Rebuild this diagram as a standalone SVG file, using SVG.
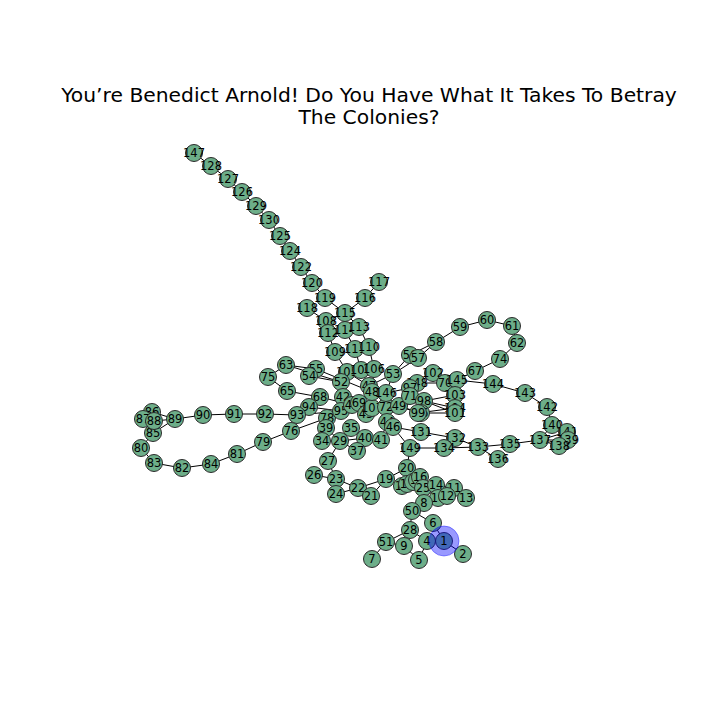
<svg xmlns="http://www.w3.org/2000/svg" width="720" height="720" viewBox="0 0 720 720">
<style>
.e line{stroke:#000;stroke-width:1}
.n circle{fill:#6dae89;stroke:#2a2a2a;stroke-width:1}
.n text{font-family:"DejaVu Sans",sans-serif;font-size:11.5px;text-anchor:middle;dominant-baseline:central;fill:#000}
.t{font-family:"DejaVu Sans",sans-serif;font-size:20.3px;text-anchor:middle;fill:#000}
</style>
<rect width="720" height="720" fill="#fff"/>
<text class="t" x="369" y="102">You’re Benedict Arnold! Do You Have What It Takes To Betray</text>
<text class="t" x="369" y="124">The Colonies?</text>
<g class="e" id="connectors">
<line x1="194" y1="153" x2="211" y2="166"/><line x1="211" y1="166" x2="228" y2="179"/><line x1="228" y1="179" x2="242" y2="192"/><line x1="242" y1="192" x2="256" y2="206"/><line x1="256" y1="206" x2="269" y2="220"/><line x1="269" y1="220" x2="280" y2="236"/><line x1="280" y1="236" x2="290" y2="251"/><line x1="290" y1="251" x2="301" y2="267"/><line x1="301" y1="267" x2="312" y2="283"/><line x1="312" y1="283" x2="325" y2="298"/><line x1="325" y1="298" x2="345" y2="313"/>
<line x1="307" y1="308" x2="326" y2="321"/><line x1="326" y1="321" x2="345" y2="313"/><line x1="326" y1="321" x2="328" y2="333"/><line x1="328" y1="333" x2="345" y2="330"/><line x1="345" y1="330" x2="345" y2="313"/><line x1="345" y1="313" x2="359" y2="327"/><line x1="365" y1="298" x2="345" y2="313"/><line x1="379" y1="282" x2="365" y2="298"/><line x1="359" y1="327" x2="369" y2="347"/><line x1="328" y1="333" x2="335" y2="352"/><line x1="345" y1="330" x2="355" y2="349"/><line x1="335" y1="352" x2="347" y2="372"/><line x1="355" y1="349" x2="361" y2="370"/><line x1="369" y1="347" x2="374" y2="369"/><line x1="347" y1="372" x2="341" y2="382"/><line x1="361" y1="370" x2="369" y2="386"/><line x1="374" y1="369" x2="372" y2="392"/><line x1="347" y1="372" x2="369" y2="386"/>
<line x1="286" y1="365" x2="316" y2="369"/><line x1="286" y1="365" x2="341" y2="382"/><line x1="316" y1="369" x2="309" y2="376"/><line x1="309" y1="376" x2="341" y2="382"/><line x1="316" y1="369" x2="372" y2="392"/><line x1="268" y1="377" x2="286" y2="365"/><line x1="268" y1="377" x2="287" y2="391"/><line x1="287" y1="391" x2="320" y2="397"/><line x1="320" y1="397" x2="352" y2="405"/><line x1="341" y1="382" x2="343" y2="397"/><line x1="343" y1="397" x2="341" y2="411"/><line x1="309" y1="407" x2="341" y2="411"/>
<line x1="297" y1="415" x2="265" y2="414"/><line x1="265" y1="414" x2="234" y2="414"/><line x1="234" y1="414" x2="203" y2="415"/><line x1="203" y1="415" x2="175" y2="419"/><line x1="175" y1="419" x2="152" y2="412"/><line x1="175" y1="419" x2="154" y2="421"/><line x1="175" y1="419" x2="153" y2="433"/><line x1="152" y1="412" x2="143" y2="419"/><line x1="143" y1="419" x2="154" y2="421"/><line x1="154" y1="421" x2="153" y2="433"/><line x1="153" y1="433" x2="141" y2="448"/><line x1="141" y1="448" x2="154" y2="463"/><line x1="154" y1="463" x2="182" y2="468"/><line x1="182" y1="468" x2="211" y2="464"/><line x1="211" y1="464" x2="237" y2="454"/><line x1="237" y1="454" x2="263" y2="442"/><line x1="263" y1="442" x2="291" y2="431"/><line x1="291" y1="431" x2="327" y2="418"/><line x1="327" y1="418" x2="341" y2="411"/><line x1="327" y1="418" x2="326" y2="428"/><line x1="297" y1="415" x2="309" y2="407"/><line x1="297" y1="415" x2="341" y2="411"/>
<line x1="326" y1="428" x2="322" y2="441"/><line x1="326" y1="428" x2="340" y2="441"/><line x1="340" y1="441" x2="365" y2="438"/><line x1="340" y1="441" x2="357" y2="451"/><line x1="340" y1="441" x2="328" y2="461"/><line x1="351" y1="428" x2="365" y2="438"/><line x1="365" y1="438" x2="381" y2="440"/><line x1="381" y1="440" x2="387" y2="422"/><line x1="387" y1="422" x2="393" y2="427"/><line x1="393" y1="427" x2="421" y2="432"/><line x1="421" y1="432" x2="455" y2="438"/><line x1="455" y1="438" x2="478" y2="447"/><line x1="410" y1="448" x2="444" y2="448"/><line x1="444" y1="448" x2="478" y2="447"/><line x1="393" y1="427" x2="410" y2="448"/><line x1="478" y1="447" x2="498" y2="459"/><line x1="478" y1="447" x2="510" y2="444"/><line x1="510" y1="444" x2="540" y2="440"/><line x1="540" y1="440" x2="559" y2="446"/><line x1="540" y1="440" x2="568" y2="440"/><line x1="540" y1="440" x2="567" y2="432"/><line x1="540" y1="440" x2="552" y2="425"/><line x1="552" y1="425" x2="547" y2="407"/><line x1="547" y1="407" x2="525" y2="393"/><line x1="525" y1="393" x2="493" y2="384"/><line x1="493" y1="384" x2="457" y2="380"/><line x1="457" y1="380" x2="475" y2="371"/><line x1="475" y1="371" x2="500" y2="359"/><line x1="500" y1="359" x2="517" y2="343"/><line x1="517" y1="343" x2="512" y2="326"/><line x1="512" y1="326" x2="487" y2="320"/><line x1="487" y1="320" x2="460" y2="327"/><line x1="460" y1="327" x2="436" y2="342"/><line x1="436" y1="342" x2="410" y2="355"/><line x1="436" y1="342" x2="418" y2="358"/><line x1="410" y1="355" x2="393" y2="374"/><line x1="418" y1="358" x2="393" y2="374"/><line x1="393" y1="374" x2="386" y2="393"/><line x1="393" y1="374" x2="369" y2="386"/><line x1="386" y1="393" x2="372" y2="392"/><line x1="369" y1="386" x2="372" y2="392"/><line x1="372" y1="392" x2="359" y2="403"/><line x1="372" y1="392" x2="352" y2="405"/>
<line x1="386" y1="393" x2="410" y2="388"/><line x1="417" y1="383" x2="433" y2="373"/><line x1="433" y1="373" x2="445" y2="383"/><line x1="417" y1="383" x2="445" y2="383"/><line x1="445" y1="383" x2="457" y2="380"/><line x1="417" y1="383" x2="410" y2="388"/><line x1="410" y1="388" x2="410" y2="396"/><line x1="410" y1="396" x2="424" y2="401"/><line x1="424" y1="401" x2="455" y2="395"/><line x1="424" y1="401" x2="455" y2="408"/><line x1="424" y1="401" x2="455" y2="413"/><line x1="421" y1="413" x2="455" y2="413"/><line x1="418" y1="413" x2="455" y2="408"/><line x1="399" y1="406" x2="424" y2="401"/><line x1="399" y1="406" x2="421" y2="413"/><line x1="399" y1="406" x2="418" y2="413"/><line x1="386" y1="407" x2="399" y2="406"/><line x1="372" y1="408" x2="386" y2="407"/><line x1="359" y1="403" x2="366" y2="414"/><line x1="352" y1="405" x2="359" y2="403"/><line x1="341" y1="411" x2="352" y2="405"/><line x1="372" y1="408" x2="359" y2="403"/>
<line x1="407" y1="468" x2="410" y2="448"/><line x1="407" y1="468" x2="386" y2="479"/><line x1="407" y1="468" x2="407" y2="484"/><line x1="386" y1="479" x2="402" y2="486"/><line x1="386" y1="479" x2="358" y2="488"/><line x1="386" y1="479" x2="371" y2="496"/><line x1="358" y1="488" x2="336" y2="479"/><line x1="358" y1="488" x2="336" y2="494"/><line x1="336" y1="479" x2="336" y2="494"/><line x1="336" y1="479" x2="314" y2="475"/><line x1="336" y1="479" x2="328" y2="461"/><line x1="420" y1="477" x2="407" y2="468"/><line x1="420" y1="477" x2="423" y2="488"/><line x1="417" y1="480" x2="423" y2="488"/><line x1="413" y1="482" x2="423" y2="488"/><line x1="402" y1="486" x2="407" y2="484"/><line x1="423" y1="488" x2="436" y2="485"/><line x1="423" y1="488" x2="438" y2="498"/><line x1="436" y1="485" x2="447" y2="496"/><line x1="438" y1="498" x2="447" y2="496"/><line x1="447" y1="496" x2="454" y2="488"/><line x1="436" y1="485" x2="454" y2="488"/><line x1="454" y1="488" x2="466" y2="498"/><line x1="423" y1="488" x2="424" y2="503"/><line x1="424" y1="503" x2="412" y2="511"/><line x1="412" y1="511" x2="433" y2="523"/><line x1="412" y1="511" x2="410" y2="530"/><line x1="410" y1="530" x2="427" y2="541"/><line x1="410" y1="530" x2="386" y2="542"/><line x1="410" y1="530" x2="404" y2="546"/><line x1="427" y1="541" x2="444" y2="541"/><line x1="433" y1="523" x2="444" y2="541"/><line x1="444" y1="541" x2="463" y2="554"/><line x1="427" y1="541" x2="419" y2="560"/><line x1="404" y1="546" x2="419" y2="560"/><line x1="386" y1="542" x2="372" y2="559"/><line x1="386" y1="542" x2="404" y2="546"/>
</g>
<g class="n">
<g id="n147"><circle cx="194" cy="153" r="8.5"/><text x="194" y="153">147</text></g>
<g id="n128"><circle cx="211" cy="166" r="8.5"/><text x="211" y="166">128</text></g>
<g id="n127"><circle cx="228" cy="179" r="8.5"/><text x="228" y="179">127</text></g>
<g id="n126"><circle cx="242" cy="192" r="8.5"/><text x="242" y="192">126</text></g>
<g id="n129"><circle cx="256" cy="206" r="8.5"/><text x="256" y="206">129</text></g>
<g id="n130"><circle cx="269" cy="220" r="8.5"/><text x="269" y="220">130</text></g>
<g id="n125"><circle cx="280" cy="236" r="8.5"/><text x="280" y="236">125</text></g>
<g id="n124"><circle cx="290" cy="251" r="8.5"/><text x="290" y="251">124</text></g>
<g id="n122"><circle cx="301" cy="267" r="8.5"/><text x="301" y="267">122</text></g>
<g id="n120"><circle cx="312" cy="283" r="8.5"/><text x="312" y="283">120</text></g>
<g id="n119"><circle cx="325" cy="298" r="8.5"/><text x="325" y="298">119</text></g>
<g id="n118"><circle cx="307" cy="308" r="8.5"/><text x="307" y="308">118</text></g>
<g id="n117"><circle cx="379" cy="282" r="8.5"/><text x="379" y="282">117</text></g>
<g id="n116"><circle cx="365" cy="298" r="8.5"/><text x="365" y="298">116</text></g>
<g id="n115"><circle cx="345" cy="313" r="8.5"/><text x="345" y="313">115</text></g>
<g id="n108"><circle cx="326" cy="321" r="8.5"/><text x="326" y="321">108</text></g>
<g id="n112"><circle cx="328" cy="333" r="8.5"/><text x="328" y="333">112</text></g>
<g id="n114"><circle cx="345" cy="330" r="8.5"/><text x="345" y="330">114</text></g>
<g id="n113"><circle cx="359" cy="327" r="8.5"/><text x="359" y="327">113</text></g>
<g id="n109"><circle cx="335" cy="352" r="8.5"/><text x="335" y="352">109</text></g>
<g id="n111"><circle cx="355" cy="349" r="8.5"/><text x="355" y="349">111</text></g>
<g id="n110"><circle cx="369" cy="347" r="8.5"/><text x="369" y="347">110</text></g>
<g id="n105"><circle cx="347" cy="372" r="8.5"/><text x="347" y="372">105</text></g>
<g id="n100"><circle cx="361" cy="370" r="8.5"/><text x="361" y="370">100</text></g>
<g id="n106"><circle cx="374" cy="369" r="8.5"/><text x="374" y="369">106</text></g>
<g id="n63"><circle cx="286" cy="365" r="8.5"/><text x="286" y="365">63</text></g>
<g id="n75"><circle cx="268" cy="377" r="8.5"/><text x="268" y="377">75</text></g>
<g id="n65"><circle cx="287" cy="391" r="8.5"/><text x="287" y="391">65</text></g>
<g id="n55"><circle cx="316" cy="369" r="8.5"/><text x="316" y="369">55</text></g>
<g id="n54"><circle cx="309" cy="376" r="8.5"/><text x="309" y="376">54</text></g>
<g id="n52"><circle cx="341" cy="382" r="8.5"/><text x="341" y="382">52</text></g>
<g id="n68"><circle cx="320" cy="397" r="8.5"/><text x="320" y="397">68</text></g>
<g id="n42"><circle cx="343" cy="397" r="8.5"/><text x="343" y="397">42</text></g>
<g id="n94"><circle cx="309" cy="407" r="8.5"/><text x="309" y="407">94</text></g>
<g id="n93"><circle cx="297" cy="415" r="8.5"/><text x="297" y="415">93</text></g>
<g id="n92"><circle cx="265" cy="414" r="8.5"/><text x="265" y="414">92</text></g>
<g id="n91"><circle cx="234" cy="414" r="8.5"/><text x="234" y="414">91</text></g>
<g id="n90"><circle cx="203" cy="415" r="8.5"/><text x="203" y="415">90</text></g>
<g id="n89"><circle cx="175" cy="419" r="8.5"/><text x="175" y="419">89</text></g>
<g id="n86"><circle cx="152" cy="412" r="8.5"/><text x="152" y="412">86</text></g>
<g id="n87"><circle cx="143" cy="419" r="8.5"/><text x="143" y="419">87</text></g>
<g id="n85"><circle cx="153" cy="433" r="8.5"/><text x="153" y="433">85</text></g>
<g id="n88"><circle cx="154" cy="421" r="8.5"/><text x="154" y="421">88</text></g>
<g id="n80"><circle cx="141" cy="448" r="8.5"/><text x="141" y="448">80</text></g>
<g id="n83"><circle cx="154" cy="463" r="8.5"/><text x="154" y="463">83</text></g>
<g id="n82"><circle cx="182" cy="468" r="8.5"/><text x="182" y="468">82</text></g>
<g id="n84"><circle cx="211" cy="464" r="8.5"/><text x="211" y="464">84</text></g>
<g id="n81"><circle cx="237" cy="454" r="8.5"/><text x="237" y="454">81</text></g>
<g id="n79"><circle cx="263" cy="442" r="8.5"/><text x="263" y="442">79</text></g>
<g id="n76"><circle cx="291" cy="431" r="8.5"/><text x="291" y="431">76</text></g>
<g id="n78"><circle cx="327" cy="418" r="8.5"/><text x="327" y="418">78</text></g>
<g id="n39"><circle cx="326" cy="428" r="8.5"/><text x="326" y="428">39</text></g>
<g id="n95"><circle cx="341" cy="411" r="8.5"/><text x="341" y="411">95</text></g>
<g id="n43"><circle cx="352" cy="405" r="8.5"/><text x="352" y="405">43</text></g>
<g id="n69"><circle cx="359" cy="403" r="8.5"/><text x="359" y="403">69</text></g>
<g id="n45"><circle cx="366" cy="414" r="8.5"/><text x="366" y="414">45</text></g>
<g id="n107"><circle cx="372" cy="408" r="8.5"/><text x="372" y="408">107</text></g>
<g id="n72"><circle cx="386" cy="407" r="8.5"/><text x="386" y="407">72</text></g>
<g id="n49"><circle cx="399" cy="406" r="8.5"/><text x="399" y="406">49</text></g>
<g id="n47"><circle cx="369" cy="386" r="8.5"/><text x="369" y="386">47</text></g>
<g id="n48"><circle cx="372" cy="392" r="8.5"/><text x="372" y="392">48</text></g>
<g id="n146"><circle cx="386" cy="393" r="8.5"/><text x="386" y="393">146</text></g>
<g id="n53"><circle cx="393" cy="374" r="8.5"/><text x="393" y="374">53</text></g>
<g id="n56"><circle cx="410" cy="355" r="8.5"/><text x="410" y="355">56</text></g>
<g id="n57"><circle cx="418" cy="358" r="8.5"/><text x="418" y="358">57</text></g>
<g id="n58"><circle cx="436" cy="342" r="8.5"/><text x="436" y="342">58</text></g>
<g id="n59"><circle cx="460" cy="327" r="8.5"/><text x="460" y="327">59</text></g>
<g id="n60"><circle cx="487" cy="320" r="8.5"/><text x="487" y="320">60</text></g>
<g id="n61"><circle cx="512" cy="326" r="8.5"/><text x="512" y="326">61</text></g>
<g id="n62"><circle cx="517" cy="343" r="8.5"/><text x="517" y="343">62</text></g>
<g id="n74"><circle cx="500" cy="359" r="8.5"/><text x="500" y="359">74</text></g>
<g id="n67"><circle cx="475" cy="371" r="8.5"/><text x="475" y="371">67</text></g>
<g id="n102"><circle cx="433" cy="373" r="8.5"/><text x="433" y="373">102</text></g>
<g id="n148"><circle cx="417" cy="383" r="8.5"/><text x="417" y="383">148</text></g>
<g id="n70"><circle cx="445" cy="383" r="8.5"/><text x="445" y="383">70</text></g>
<g id="n145"><circle cx="457" cy="380" r="8.5"/><text x="457" y="380">145</text></g>
<g id="n97"><circle cx="410" cy="388" r="8.5"/><text x="410" y="388">97</text></g>
<g id="n71"><circle cx="410" cy="396" r="8.5"/><text x="410" y="396">71</text></g>
<g id="n98"><circle cx="424" cy="401" r="8.5"/><text x="424" y="401">98</text></g>
<g id="n103"><circle cx="455" cy="395" r="8.5"/><text x="455" y="395">103</text></g>
<g id="n104"><circle cx="455" cy="408" r="8.5"/><text x="455" y="408">104</text></g>
<g id="n101"><circle cx="455" cy="413" r="8.5"/><text x="455" y="413">101</text></g>
<g id="n96"><circle cx="421" cy="413" r="8.5"/><text x="421" y="413">96</text></g>
<g id="n99"><circle cx="418" cy="413" r="8.5"/><text x="418" y="413">99</text></g>
<g id="n144"><circle cx="493" cy="384" r="8.5"/><text x="493" y="384">144</text></g>
<g id="n143"><circle cx="525" cy="393" r="8.5"/><text x="525" y="393">143</text></g>
<g id="n142"><circle cx="547" cy="407" r="8.5"/><text x="547" y="407">142</text></g>
<g id="n140"><circle cx="552" cy="425" r="8.5"/><text x="552" y="425">140</text></g>
<g id="n141"><circle cx="567" cy="432" r="8.5"/><text x="567" y="432">141</text></g>
<g id="n139"><circle cx="568" cy="440" r="8.5"/><text x="568" y="440">139</text></g>
<g id="n138"><circle cx="559" cy="446" r="8.5"/><text x="559" y="446">138</text></g>
<g id="n137"><circle cx="540" cy="440" r="8.5"/><text x="540" y="440">137</text></g>
<g id="n135"><circle cx="510" cy="444" r="8.5"/><text x="510" y="444">135</text></g>
<g id="n136"><circle cx="498" cy="459" r="8.5"/><text x="498" y="459">136</text></g>
<g id="n133"><circle cx="478" cy="447" r="8.5"/><text x="478" y="447">133</text></g>
<g id="n132"><circle cx="455" cy="438" r="8.5"/><text x="455" y="438">132</text></g>
<g id="n134"><circle cx="444" cy="448" r="8.5"/><text x="444" y="448">134</text></g>
<g id="n131"><circle cx="421" cy="432" r="8.5"/><text x="421" y="432">131</text></g>
<g id="n149"><circle cx="410" cy="448" r="8.5"/><text x="410" y="448">149</text></g>
<g id="n44"><circle cx="387" cy="422" r="8.5"/><text x="387" y="422">44</text></g>
<g id="n46"><circle cx="393" cy="427" r="8.5"/><text x="393" y="427">46</text></g>
<g id="n35"><circle cx="351" cy="428" r="8.5"/><text x="351" y="428">35</text></g>
<g id="n34"><circle cx="322" cy="441" r="8.5"/><text x="322" y="441">34</text></g>
<g id="n29"><circle cx="340" cy="441" r="8.5"/><text x="340" y="441">29</text></g>
<g id="n40"><circle cx="365" cy="438" r="8.5"/><text x="365" y="438">40</text></g>
<g id="n41"><circle cx="381" cy="440" r="8.5"/><text x="381" y="440">41</text></g>
<g id="n37"><circle cx="357" cy="451" r="8.5"/><text x="357" y="451">37</text></g>
<g id="n27"><circle cx="328" cy="461" r="8.5"/><text x="328" y="461">27</text></g>
<g id="n26"><circle cx="314" cy="475" r="8.5"/><text x="314" y="475">26</text></g>
<g id="n23"><circle cx="336" cy="479" r="8.5"/><text x="336" y="479">23</text></g>
<g id="n24"><circle cx="336" cy="494" r="8.5"/><text x="336" y="494">24</text></g>
<g id="n22"><circle cx="358" cy="488" r="8.5"/><text x="358" y="488">22</text></g>
<g id="n21"><circle cx="371" cy="496" r="8.5"/><text x="371" y="496">21</text></g>
<g id="n19"><circle cx="386" cy="479" r="8.5"/><text x="386" y="479">19</text></g>
<g id="n20"><circle cx="407" cy="468" r="8.5"/><text x="407" y="468">20</text></g>
<g id="n18"><circle cx="402" cy="486" r="8.5"/><text x="402" y="486">18</text></g>
<g id="n17"><circle cx="407" cy="484" r="8.5"/><text x="407" y="484">17</text></g>
<g id="n3"><circle cx="413" cy="482" r="8.5"/><text x="413" y="482">3</text></g>
<g id="n15"><circle cx="417" cy="480" r="8.5"/><text x="417" y="480">15</text></g>
<g id="n16"><circle cx="420" cy="477" r="8.5"/><text x="420" y="477">16</text></g>
<g id="n25"><circle cx="423" cy="488" r="8.5"/><text x="423" y="488">25</text></g>
<g id="n14"><circle cx="436" cy="485" r="8.5"/><text x="436" y="485">14</text></g>
<g id="n10"><circle cx="438" cy="498" r="8.5"/><text x="438" y="498">10</text></g>
<g id="n11"><circle cx="454" cy="488" r="8.5"/><text x="454" y="488">11</text></g>
<g id="n12"><circle cx="447" cy="496" r="8.5"/><text x="447" y="496">12</text></g>
<g id="n13"><circle cx="466" cy="498" r="8.5"/><text x="466" y="498">13</text></g>
<g id="n8"><circle cx="424" cy="503" r="8.5"/><text x="424" y="503">8</text></g>
<g id="n50"><circle cx="412" cy="511" r="8.5"/><text x="412" y="511">50</text></g>
<g id="n6"><circle cx="433" cy="523" r="8.5"/><text x="433" y="523">6</text></g>
<g id="n28"><circle cx="410" cy="530" r="8.5"/><text x="410" y="530">28</text></g>
<g id="n4"><circle cx="427" cy="541" r="8.5"/><text x="427" y="541">4</text></g>
<g id="n51"><circle cx="386" cy="542" r="8.5"/><text x="386" y="542">51</text></g>
<g id="n9"><circle cx="404" cy="546" r="8.5"/><text x="404" y="546">9</text></g>
<g id="n5"><circle cx="419" cy="560" r="8.5"/><text x="419" y="560">5</text></g>
<g id="n7"><circle cx="372" cy="559" r="8.5"/><text x="372" y="559">7</text></g>
<g id="n2"><circle cx="463" cy="554" r="8.5"/><text x="463" y="554">2</text></g>
<g id="n1"><circle cx="444" cy="541" r="8.5"/><circle cx="444" cy="541" r="15" style="fill:#0000ff;fill-opacity:0.4;stroke:#0000ff;stroke-opacity:0.4"/><text x="444" y="541">1</text></g>
</g>
</svg>
